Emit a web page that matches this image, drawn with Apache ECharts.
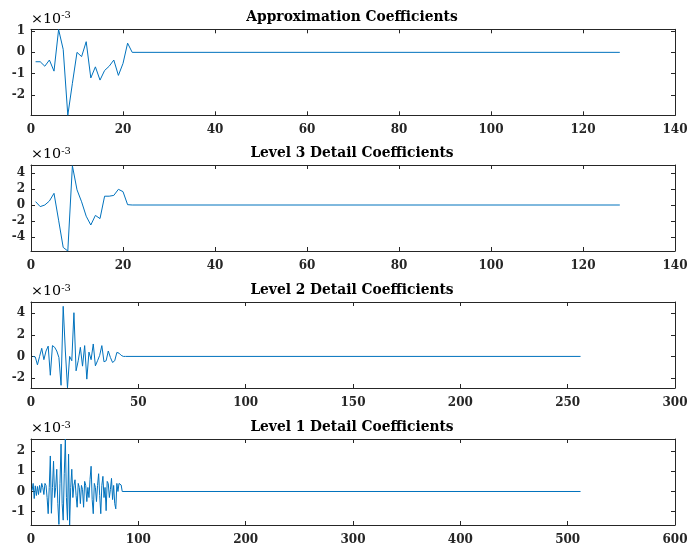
<!DOCTYPE html>
<html>
<head>
<meta charset="utf-8">
<script src="https://cdn.jsdelivr.net/npm/echarts@6/dist/echarts.min.js"></script>
<style>
  html, body { margin: 0; padding: 0; background: #ffffff; }
  #chart { width: 691px; height: 546px; }
</style>
</head>
<body>
<div id="chart"></div>
<script>
// 3-level wavelet decomposition. Coefficient values are in units of 1e-3;
// each signal is zero from the last listed sample to its full length.
const approxCoeffs = [-0.44, -0.44, -0.65, -0.36, -0.88, 1.07, 0.14, -2.95, -1.45, 0.0,
  -0.2, 0.5, -1.2, -0.68, -1.3, -0.85, -0.65, -0.36, -1.08, -0.52, 0.43, 0.0];
const approxLength = 128;

const detail3Coeffs = [0.42, -0.2, 0.0, 0.5, 1.46, -1.9, -5.3, -5.75, 4.9, 1.9,
  0.4, -1.4, -2.5, -1.3, -1.7, 1.1, 1.1, 1.2, 1.96, 1.67, 0.04, 0.0];
const detail3Length = 128;

const detail2Coeffs = [0.0, -0.05, -0.78, 0.0, 0.75, -0.3, 0.5, 0.95, -1.74, 1.0,
  0.85, 0.5, -0.1, -2.67, 4.63, 0.5, -2.9, 0.0, -0.4, 4.04,
  -1.33, -0.4, 0.84, -0.9, 1.0, -2.1, 0.4, -0.3, 1.15, -0.87,
  -0.4, 0.1, 1.0, -0.5, -0.4, 0.5, -0.1, -0.56, -0.4, 0.37,
  0.3, 0.1, 0.0, 0.0];
const detail2Length = 256;

const detail1Coeffs = [0.05, 0.4, -0.35, 0.28, -0.2, 0.25, -0.15, 0.3, -0.05, 0.4,
  0.2, -0.15, 0.4, 0.3, -0.3, -1.1, 0.2, 1.76, -1.08, 0.2,
  1.5, -0.3, 0.2, 1.1, -0.6, -1.63, 0.4, 2.35, -0.6, -1.42,
  0.9, 2.6, -0.3, -1.42, 1.85, -1.66, 0.2, 1.1, -0.3, 0.3,
  0.58, -0.2, -0.78, 0.4, 0.2, -0.6, 0.3, 0.1, -0.78, 0.5,
  0.3, -0.5, 0.2, -0.3, 0.6, 1.25, -0.4, -1.1, 0.4, 0.2,
  -0.5, 0.3, 0.88, -0.2, -1.1, 0.3, 0.75, -0.3, 0.2, -0.95,
  0.5, 0.4, -0.3, 0.1, 0.65, -0.4, 0.3, -0.6, -0.86, 0.4,
  0.0, 0.4, 0.35, 0.32, 0.0];
const detail1Length = 512;

const panelTitles = ['Approximation Coefficients', 'Level 3 Detail Coefficients',
  'Level 2 Detail Coefficients', 'Level 1 Detail Coefficients'];
const xMaxes = [140, 140, 300, 600];
const xSteps = [20, 20, 50, 100];
const yTickValues = [[-2, -1, 0, 1], [-4, -2, 0, 2, 4], [-2, 0, 2, 4], [-1, 0, 1, 2]];
const yLimits = [[-2.95, 1.08], [-5.75, 5.0], [-2.92, 5.03], [-1.66, 2.6]];
const exponentText = ['×10', '-3'];

// Panel layout (pixels)
const gridLeft = 31;
const gridRight = 16;
const gridTops = [29.3, 165, 302, 439];
const gridHeight = 86;

const signals = [
  [approxCoeffs, approxLength],
  [detail3Coeffs, detail3Length],
  [detail2Coeffs, detail2Length],
  [detail1Coeffs, detail1Length]
];

function toPoints(values, length) {
  const pts = values.map((v, i) => [i + 1, v]);
  pts.push([length, 0]);
  return pts;
}

const axisColor = '#262626';
const labelFont = { fontFamily: 'DejaVu Serif', fontWeight: 'bold', fontSize: 12, color: axisColor };

const grids = [], xAxes = [], yAxes = [], series = [], graphics = [];

gridTops.forEach((top, i) => {
  grids.push({ left: gridLeft, right: gridRight, top: top, height: gridHeight,
    containLabel: false, outerBoundsMode: 'none' });

  const xBase = {
    gridIndex: i, type: 'value', min: 0, max: xMaxes[i], interval: xSteps[i],
    axisLine: { show: true, onZero: false, lineStyle: { color: axisColor, width: 1 } },
    axisTick: { show: true, inside: true, length: 4, lineStyle: { color: axisColor, width: 1 } },
    splitLine: { show: false }
  };
  xAxes.push(Object.assign({}, xBase, { position: 'bottom',
    axisLabel: Object.assign({ margin: 9, showMinLabel: true, showMaxLabel: true }, labelFont) }));
  xAxes.push(Object.assign({}, xBase, { position: 'top', axisLabel: { show: false } }));

  const yBase = {
    gridIndex: i, type: 'value', min: yLimits[i][0], max: yLimits[i][1],
    axisLine: { show: true, onZero: false, lineStyle: { color: axisColor, width: 1 } },
    axisTick: { show: true, inside: true, length: 4, customValues: yTickValues[i],
      lineStyle: { color: axisColor, width: 1 } },
    splitLine: { show: false }
  };
  yAxes.push(Object.assign({}, yBase, { position: 'left',
    axisLabel: Object.assign({ margin: 6, customValues: yTickValues[i] }, labelFont) }));
  yAxes.push(Object.assign({}, yBase, { position: 'right', axisLabel: { show: false } }));

  series.push({
    type: 'line', xAxisIndex: 2 * i, yAxisIndex: 2 * i,
    data: toPoints(signals[i][0], signals[i][1]),
    symbol: 'none', smooth: false,
    lineStyle: { color: '#0072BD', width: 1 },
    animation: false
  });

  // panel title
  graphics.push({
    type: 'text', x: 352, y: top - 12, scaleX: 0.92,
    style: { text: panelTitles[i], fill: '#000000', align: 'center', verticalAlign: 'middle',
      font: 'bold 15px "DejaVu Serif"' }
  });
  // axis exponent
  graphics.push({
    type: 'text', x: gridLeft, y: top - 2, scaleX: 1.1,
    style: {
      text: '{a|' + exponentText[0] + '}{b|' + exponentText[1] + '}',
      align: 'left', verticalAlign: 'bottom',
      rich: {
        a: { fontFamily: 'DejaVu Serif', fontSize: 13, color: axisColor, lineHeight: 16 },
        b: { fontFamily: 'DejaVu Serif', fontSize: 9, color: axisColor, lineHeight: 16, verticalAlign: 'top' }
      }
    }
  });
});

const chart = echarts.init(document.getElementById('chart'), null, { renderer: 'canvas' });
chart.setOption({
  animation: false,
  backgroundColor: '#ffffff',
  grid: grids,
  xAxis: xAxes,
  yAxis: yAxes,
  series: series,
  graphic: graphics
});
</script>
</body>
</html>
